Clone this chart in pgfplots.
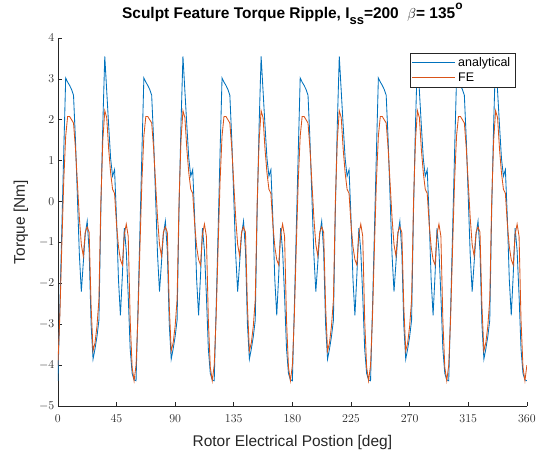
\documentclass[border=0pt]{standalone}
\usepackage{pgfplots}
\pgfplotsset{compat=1.18}
\usepackage{pgfplotstable}
\usepackage{fontspec}
\setmainfont{Liberation Sans}
\definecolor{mblue}{rgb}{0,0.447,0.741}
\definecolor{morange}{rgb}{0.85,0.325,0.098}
\definecolor{axgray}{rgb}{0.15,0.15,0.15}
\pgfplotstableread{
x a f
0 -4.38 -4.00
1.5 -2.60 -2.80
3 -0.70 -1.10
4.5 1.20 0.50
6 3.02 1.60
7.5 2.92 2.08
9 2.84 2.08
10.5 2.74 2.00
12 2.60 1.92
13.5 1.50 1.30
15 0.10 0.45
16.5 -1.30 -0.40
18 -2.20 -1.05
19.5 -1.50 -1.33
21 -0.80 -0.75
22.5 -0.48 -0.62
24 -1.20 -0.75
25.5 -3.00 -2.55
27 -3.85 -3.65
28.5 -3.60 -3.45
30 -3.30 -3.05
31.5 -2.90 -2.40
33 -0.20 0.00
34.5 1.90 1.50
36 3.55 2.22
37.5 2.70 2.05
39 1.85 1.28
40.5 1.05 0.70
42 0.62 0.30
43.5 0.78 0.20
45 -0.40 -0.55
46.5 -1.90 -1.10
48 -2.78 -1.42
49.5 -1.80 -1.55
51 -0.65 -0.80
52.5 -1.20 -0.55
54 -2.30 -0.85
55.5 -3.60 -2.90
57 -4.20 -4.05
58.5 -4.36 -4.38
60 -4.38 -4.00
61.5 -2.60 -2.80
63 -0.70 -1.10
64.5 1.20 0.50
66 3.02 1.60
67.5 2.92 2.08
69 2.84 2.08
70.5 2.74 2.00
72 2.60 1.92
73.5 1.50 1.30
75 0.10 0.45
76.5 -1.30 -0.40
78 -2.20 -1.05
79.5 -1.50 -1.33
81 -0.80 -0.75
82.5 -0.48 -0.62
84 -1.20 -0.75
85.5 -3.00 -2.55
87 -3.85 -3.65
88.5 -3.60 -3.45
90 -3.30 -3.05
91.5 -2.90 -2.40
93 -0.20 0.00
94.5 1.90 1.50
96 3.55 2.22
97.5 2.70 2.05
99 1.85 1.28
100.5 1.05 0.70
102 0.62 0.30
103.5 0.78 0.20
105 -0.40 -0.55
106.5 -1.90 -1.10
108 -2.78 -1.42
109.5 -1.80 -1.55
111 -0.65 -0.80
112.5 -1.20 -0.55
114 -2.30 -0.85
115.5 -3.60 -2.90
117 -4.20 -4.05
118.5 -4.36 -4.38
120 -4.38 -4.00
121.5 -2.60 -2.80
123 -0.70 -1.10
124.5 1.20 0.50
126 3.02 1.60
127.5 2.92 2.08
129 2.84 2.08
130.5 2.74 2.00
132 2.60 1.92
133.5 1.50 1.30
135 0.10 0.45
136.5 -1.30 -0.40
138 -2.20 -1.05
139.5 -1.50 -1.33
141 -0.80 -0.75
142.5 -0.48 -0.62
144 -1.20 -0.75
145.5 -3.00 -2.55
147 -3.85 -3.65
148.5 -3.60 -3.45
150 -3.30 -3.05
151.5 -2.90 -2.40
153 -0.20 0.00
154.5 1.90 1.50
156 3.55 2.22
157.5 2.70 2.05
159 1.85 1.28
160.5 1.05 0.70
162 0.62 0.30
163.5 0.78 0.20
165 -0.40 -0.55
166.5 -1.90 -1.10
168 -2.78 -1.42
169.5 -1.80 -1.55
171 -0.65 -0.80
172.5 -1.20 -0.55
174 -2.30 -0.85
175.5 -3.60 -2.90
177 -4.20 -4.05
178.5 -4.36 -4.38
180 -4.38 -4.00
181.5 -2.60 -2.80
183 -0.70 -1.10
184.5 1.20 0.50
186 3.02 1.60
187.5 2.92 2.08
189 2.84 2.08
190.5 2.74 2.00
192 2.60 1.92
193.5 1.50 1.30
195 0.10 0.45
196.5 -1.30 -0.40
198 -2.20 -1.05
199.5 -1.50 -1.33
201 -0.80 -0.75
202.5 -0.48 -0.62
204 -1.20 -0.75
205.5 -3.00 -2.55
207 -3.85 -3.65
208.5 -3.60 -3.45
210 -3.30 -3.05
211.5 -2.90 -2.40
213 -0.20 0.00
214.5 1.90 1.50
216 3.55 2.22
217.5 2.70 2.05
219 1.85 1.28
220.5 1.05 0.70
222 0.62 0.30
223.5 0.78 0.20
225 -0.40 -0.55
226.5 -1.90 -1.10
228 -2.78 -1.42
229.5 -1.80 -1.55
231 -0.65 -0.80
232.5 -1.20 -0.55
234 -2.30 -0.85
235.5 -3.60 -2.90
237 -4.20 -4.05
238.5 -4.36 -4.38
240 -4.38 -4.00
241.5 -2.60 -2.80
243 -0.70 -1.10
244.5 1.20 0.50
246 3.02 1.60
247.5 2.92 2.08
249 2.84 2.08
250.5 2.74 2.00
252 2.60 1.92
253.5 1.50 1.30
255 0.10 0.45
256.5 -1.30 -0.40
258 -2.20 -1.05
259.5 -1.50 -1.33
261 -0.80 -0.75
262.5 -0.48 -0.62
264 -1.20 -0.75
265.5 -3.00 -2.55
267 -3.85 -3.65
268.5 -3.60 -3.45
270 -3.30 -3.05
271.5 -2.90 -2.40
273 -0.20 0.00
274.5 1.90 1.50
276 3.55 2.22
277.5 2.70 2.05
279 1.85 1.28
280.5 1.05 0.70
282 0.62 0.30
283.5 0.78 0.20
285 -0.40 -0.55
286.5 -1.90 -1.10
288 -2.78 -1.42
289.5 -1.80 -1.55
291 -0.65 -0.80
292.5 -1.20 -0.55
294 -2.30 -0.85
295.5 -3.60 -2.90
297 -4.20 -4.05
298.5 -4.36 -4.38
300 -4.38 -4.00
301.5 -2.60 -2.80
303 -0.70 -1.10
304.5 1.20 0.50
306 3.02 1.60
307.5 2.92 2.08
309 2.84 2.08
310.5 2.74 2.00
312 2.60 1.92
313.5 1.50 1.30
315 0.10 0.45
316.5 -1.30 -0.40
318 -2.20 -1.05
319.5 -1.50 -1.33
321 -0.80 -0.75
322.5 -0.48 -0.62
324 -1.20 -0.75
325.5 -3.00 -2.55
327 -3.85 -3.65
328.5 -3.60 -3.45
330 -3.30 -3.05
331.5 -2.90 -2.40
333 -0.20 0.00
334.5 1.90 1.50
336 3.55 2.22
337.5 2.70 2.05
339 1.85 1.28
340.5 1.05 0.70
342 0.62 0.30
343.5 0.78 0.20
345 -0.40 -0.55
346.5 -1.90 -1.10
348 -2.78 -1.42
349.5 -1.80 -1.55
351 -0.65 -0.80
352.5 -1.20 -0.55
354 -2.30 -0.85
355.5 -3.60 -2.90
357 -4.20 -4.05
358.5 -4.36 -4.38
360 -4.38 -4.00
}\torque

\begin{document}
\begin{tikzpicture}
\begin{axis}[
  scale only axis, width=470pt, height=369pt,
  xmin=0, xmax=360, ymin=-5, ymax=4,
  xtick={0,45,...,360}, ytick={-5,-4,...,4},
  axis x line*=bottom, axis y line*=left,
  axis line style={draw=axgray, line width=0.7pt},
  tick style={draw=axgray, line width=0.6pt},
  tick align=inside, major tick length=4.5pt,
  ticklabel style={font=\fontsize{12.5}{15}\selectfont, text=axgray},
  xticklabel style={yshift=-5pt},
  title={Sculpt Feature Torque Ripple, I\raisebox{-6pt}{\fontsize{13}{13}\selectfont ss}=200\ \ $\beta$= 135\raisebox{9pt}{\fontsize{12}{12}\selectfont o}},
  title style={font=\fontsize{15.5}{18}\selectfont\bfseries, at={(axis description cs:0.5,1)}, anchor=base, yshift=13pt},
  xlabel={Rotor Electrical Postion [deg]},
  xlabel style={font=\fontsize{15.5}{18}\selectfont, text=axgray, at={(axis description cs:0.5,0)}, anchor=base, yshift=-40pt},
  ylabel={Torque [Nm]},
  ylabel style={font=\fontsize{15.5}{18}\selectfont, text=axgray, at={(axis description cs:-0.079,0.5)}, anchor=center},
  legend style={at={(axis description cs:0.9745,0.959)}, anchor=north east, draw=axgray, fill=white,
    font=\fontsize{12.5}{15}\selectfont, inner sep=2pt, row sep=1pt, cells={anchor=west},
    nodes={inner xsep=2.5pt}},
  legend image code/.code={\draw[#1] (0pt,0pt) -- (43pt,0pt);},
]
\addplot[mblue, line width=0.85pt] table[x=x, y=a]{\torque};
\addlegendentry{analytical}
\addplot[morange, line width=0.85pt] table[x=x, y=f]{\torque};
\addlegendentry{FE}
\end{axis}
\path (current axis.south west) ++(-58pt,-45pt);
\path (current axis.north east) ++(11pt,38pt);
\end{tikzpicture}
\end{document}
